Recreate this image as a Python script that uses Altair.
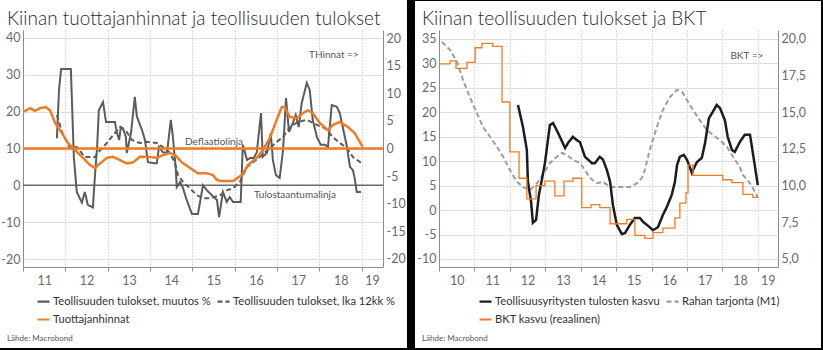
import altair as alt
import pandas as pd

FONT = "Lato"

# ===================== Left panel data =====================
L_TITLE = "Kiinan tuottajanhinnat ja teollisuuden tulokset"
L_SERIES = ["Teollisuuden tulokset, muutos %", "Teollisuuden tulokset, lka 12kk %", "Tuottajanhinnat"]
L_COLORS = ["#5b5b5b", "#5b5b5b", "#EE7B26"]
L_DASHES = [[1, 0], [5, 3], [1, 0]]

L_PROFIT_X = [2011.80, 2011.85, 2011.90, 2012.13, 2012.20, 2012.27, 2012.39, 2012.46, 2012.53, 2012.65,
              2012.70, 2012.75, 2012.79, 2012.89, 2012.96, 2013.17, 2013.22, 2013.27, 2013.31, 2013.36,
              2013.43, 2013.45, 2013.55, 2013.64, 2013.69, 2013.81, 2013.88, 2013.95, 2014.09, 2014.16,
              2014.21, 2014.30, 2014.40, 2014.49, 2014.54, 2014.61, 2014.63, 2014.71, 2014.78, 2014.85,
              2014.99, 2015.13, 2015.25, 2015.34, 2015.46, 2015.58, 2015.63, 2015.72, 2015.81, 2015.88,
              2015.96, 2016.05, 2016.14, 2016.19, 2016.29, 2016.36, 2016.45, 2016.52, 2016.62, 2016.66,
              2016.76, 2016.85, 2016.90, 2016.97, 2017.06, 2017.14, 2017.21, 2017.28, 2017.37, 2017.44,
              2017.51, 2017.58, 2017.70, 2017.77, 2017.84, 2017.94, 2018.03, 2018.13, 2018.20, 2018.29,
              2018.41, 2018.48, 2018.55, 2018.65, 2018.72, 2018.79, 2018.83, 2018.88, 2018.98]
L_PROFIT_Y = [12.8, 25.9, 31.6, 31.6, 7.7, -1.8, -4.7, -1.8, -5.3, -6.0,
              2.8, 10.4, 20.4, 22.6, 17.2, 17.2, 14.2, 12.3, 15.8, 15.5,
              13.1, 8.8, 14.2, 24.0, 18.6, 15.0, 12.3, 6.3, 6.0, 6.0,
              10.4, 9.0, 8.8, 17.8, 13.1, 4.1, -0.5, 0.9, -0.8, -3.5,
              -7.8, -7.8, 0.0, -1.3, -2.7, -4.0, -8.6, -1.8, -4.5, -3.2,
              -4.5, -4.5, -4.5, 11.0, 6.9, 7.4, 7.4, 9.0, 19.6, 7.7,
              8.8, 14.2, 6.9, 2.8, 2.0, 9.5, 23.7, 14.5, 16.9, 19.1,
              15.8, 22.3, 27.8, 25.9, 17.8, 13.1, 11.0, 11.0, 10.4, 21.8,
              21.3, 19.6, 15.8, 10.4, 5.0, 4.1, 2.0, -1.8, -1.8]

L_AVG_X = [2011.80, 2011.92, 2012.11, 2012.27, 2012.46, 2012.70, 2012.82, 2012.98, 2013.17, 2013.29,
           2013.45, 2013.57, 2013.76, 2013.93, 2014.16, 2014.30, 2014.47, 2014.59, 2014.66, 2014.78,
           2014.94, 2015.11, 2015.25, 2015.42, 2015.65, 2015.82, 2015.96, 2016.12, 2016.29, 2016.59,
           2016.83, 2016.99, 2017.14, 2017.30, 2017.49, 2017.70, 2017.94, 2018.13, 2018.32, 2018.48,
           2018.65, 2018.79, 2019.00]
L_AVG_Y = [19.1, 14.5, 10.1, 10.4, 7.7, 7.7, 9.5, 11.5, 14.2, 15.8,
           14.5, 12.3, 11.5, 11.8, 11.5, 10.4, 8.8, 6.0, 2.8, 0.9,
           -0.8, -2.7, -3.5, -3.5, -2.7, -1.3, -0.8, 0.9, 5.0, 7.7,
           10.1, 11.8, 13.1, 15.8, 17.2, 17.8, 16.4, 15.5, 13.1, 11.5,
           10.1, 7.7, 6.0]

L_PPI_X = [2011.02, 2011.17, 2011.28, 2011.40, 2011.54, 2011.64, 2011.76, 2011.92, 2012.06, 2012.23,
           2012.42, 2012.58, 2012.70, 2012.82, 2012.98, 2013.12, 2013.29, 2013.45, 2013.60, 2013.76,
           2013.95, 2014.16, 2014.30, 2014.47, 2014.59, 2014.75, 2014.94, 2015.13, 2015.34, 2015.48,
           2015.58, 2015.70, 2015.96, 2016.07, 2016.17, 2016.31, 2016.52, 2016.66, 2016.83, 2016.99,
           2017.11, 2017.18, 2017.30, 2017.47, 2017.61, 2017.73, 2017.84, 2018.01, 2018.20, 2018.32,
           2018.48, 2018.67, 2018.83, 2018.95, 2019.02]
L_PPI_Y = [6.7, 7.3, 6.8, 7.3, 7.5, 6.9, 4.6, 2.8, 1.0, -0.3,
           -1.7, -3.0, -3.5, -2.7, -1.7, -1.5, -2.1, -2.7, -2.5, -1.5,
           -1.5, -1.7, -1.2, -0.8, -1.2, -2.5, -3.5, -4.5, -4.5, -4.8,
           -5.7, -5.9, -5.9, -5.3, -4.8, -3.0, -1.7, -0.3, 1.9, 5.2,
           7.5, 7.5, 5.7, 5.5, 6.4, 6.9, 6.4, 4.6, 3.3, 4.3,
           4.8, 3.9, 2.8, 1.2, 0.3]

L_XDOMAIN = [2011.0, 2019.5]
L_YEAR_TICKS = [2011, 2012, 2013, 2014, 2015, 2016, 2017, 2018, 2019]
L_YEAR_LABEL_POS = [2011.5, 2012.5, 2013.5, 2014.5, 2015.5, 2016.5, 2017.5, 2018.5, 2019.24]
L_YLEFT_DOMAIN = [-22.17, 42.17]
L_YLEFT_TICKS = [-20, -10, 0, 10, 20, 30, 40]
L_YRIGHT_DOMAIN = [-21.45, 21.45]
L_YRIGHT_TICKS = [-20, -15, -10, -5, 0, 5, 10, 15, 20]

# ===================== Right panel data =====================
R_TITLE = "Kiinan teollisuuden tulokset ja BKT"
R_SERIES = ["Teollisuusyritysten tulosten kasvu", "Rahan tarjonta (M1)", "BKT kasvu (reaalinen)"]
R_COLORS = ["#1c1c1c", "#9c9c9c", "#EE7B26"]
R_DASHES = [[1, 0], [5, 3], [1, 0]]

R_PROFIT_X = [2012.23, 2012.37, 2012.48, 2012.51, 2012.60, 2012.65, 2012.74, 2012.82, 2012.93, 2012.99,
              2013.13, 2013.22, 2013.36, 2013.56, 2013.64, 2013.78, 2013.89, 2013.98, 2014.12, 2014.32,
              2014.40, 2014.54, 2014.63, 2014.74, 2014.83, 2014.91, 2015.02, 2015.16, 2015.25, 2015.39,
              2015.53, 2015.67, 2015.76, 2015.90, 2016.04, 2016.18, 2016.32, 2016.43, 2016.57, 2016.66,
              2016.72, 2016.80, 2016.91, 2017.00, 2017.14, 2017.17, 2017.28, 2017.42, 2017.51, 2017.62,
              2017.73, 2017.84, 2017.93, 2018.07, 2018.15, 2018.27, 2018.35, 2018.49, 2018.63, 2018.78,
              2018.86, 2019.00]
R_PROFIT_Y = [21.5, 17.0, 12.3, 5.8, 1.7, -2.6, -2.0, 3.1, 7.2, 9.6,
              17.4, 17.8, 15.8, 12.7, 13.7, 15.0, 14.3, 13.9, 10.9, 9.6,
              9.6, 10.9, 10.3, 8.2, 5.8, 1.0, -3.0, -4.9, -4.7, -3.0,
              -1.6, -1.6, -2.4, -3.2, -4.1, -3.5, -1.0, 0.6, 3.1, 5.8,
              9.2, 10.9, 11.3, 10.3, 7.6, 8.2, 9.8, 10.7, 13.7, 18.8,
              20.1, 21.5, 20.9, 18.4, 15.0, 12.3, 11.9, 13.9, 15.4, 15.4,
              11.7, 5.1]

R_M1_X = [2010.08, 2010.31, 2010.51, 2010.68, 2010.87, 2011.07, 2011.24, 2011.44, 2011.64, 2011.81,
          2012.00, 2012.20, 2012.37, 2012.57, 2012.77, 2012.93, 2013.13, 2013.33, 2013.47, 2013.61,
          2013.78, 2013.98, 2014.12, 2014.26, 2014.46, 2014.63, 2014.83, 2015.11, 2015.39, 2015.59,
          2015.73, 2015.81, 2015.95, 2016.15, 2016.32, 2016.52, 2016.72, 2016.86, 2017.00, 2017.17,
          2017.36, 2017.56, 2017.73, 2017.93, 2018.13, 2018.30, 2018.49, 2018.58, 2018.78, 2018.97,
          2019.00]
R_M1_Y = [34.4, 32.8, 30.3, 26.6, 23.1, 19.9, 17.0, 15.0, 12.9, 10.9,
          8.2, 5.8, 4.7, 4.1, 5.5, 7.2, 9.6, 10.9, 11.7, 11.3,
          10.3, 9.6, 8.2, 6.6, 5.5, 5.8, 4.7, 4.7, 4.7, 5.5,
          6.6, 8.2, 12.3, 17.0, 20.5, 23.1, 24.6, 24.2, 22.5, 20.5,
          18.4, 16.4, 15.4, 14.3, 12.9, 10.9, 8.8, 7.2, 5.5, 3.1,
          2.5]

R_GDP_X = [2010.03, 2010.31, 2010.48, 2010.79, 2011.02, 2011.21, 2011.52, 2011.78, 2012.00, 2012.26,
           2012.48, 2012.74, 2012.99, 2013.27, 2013.53, 2013.78, 2014.03, 2014.29, 2014.54, 2014.83,
           2015.30, 2015.53, 2015.81, 2016.04, 2016.32, 2016.66, 2016.80, 2016.97, 2017.03, 2017.17,
           2018.01, 2018.27, 2018.58, 2018.86, 2019.00]
R_GDP_Y = [18.3, 18.5, 18.0, 18.4, 19.4, 19.7, 19.5, 15.7, 12.3, 10.5,
           9.1, 10.0, 10.3, 9.3, 10.3, 10.5, 8.5, 8.7, 8.5, 7.4,
           7.7, 6.6, 6.4, 6.8, 7.1, 7.8, 8.8, 9.5, 11.4, 10.7,
           10.4, 10.2, 9.4, 9.2, 9.2]

R_XDOMAIN = [2010.0, 2019.57]
R_YEAR_TICKS = [2010, 2011, 2012, 2013, 2014, 2015, 2016, 2017, 2018, 2019]
R_YEAR_LABEL_POS = [2010.5, 2011.5, 2012.5, 2013.5, 2014.5, 2015.5, 2016.5, 2017.5, 2018.5, 2019.28]
R_YLEFT_DOMAIN = [-11.64, 36.84]
R_YLEFT_TICKS = [-10, -5, 0, 5, 10, 15, 20, 25, 30, 35]
R_YRIGHT_DOMAIN = [4.45, 20.61]
R_YRIGHT_TICKS = [5.0, 7.5, 10.0, 12.5, 15.0, 17.5, 20.0]

SOURCE = "Lähde: Macrobond"

AXIS_GRAY = "#8c8c8c"
LABEL_GRAY = "#6a6a6a"
NOTE_GRAY = "#555555"


# ===================== helpers =====================
def x_tick_axis(values):
    return alt.Axis(orient="bottom", values=values, labels=False, ticks=True, tickSize=4,
                    tickColor=AXIS_GRAY, domain=True, domainColor=AXIS_GRAY, grid=True,
                    gridColor="#b5b5b5", gridDash=[1, 2], gridWidth=1, title=None)


def x_label_axis(values):
    return alt.Axis(orient="bottom", values=values, labels=True, ticks=False, domain=False,
                    grid=False, labelExpr="substring(toString(floor(datum.value)), 2, 4)",
                    labelFont=FONT, labelFontSize=12.5, labelColor=LABEL_GRAY, labelPadding=7,
                    labelFlush=False, labelOverlap=False, title=None)


def y_axis(orient, values, grid, expr):
    return alt.Axis(orient=orient, values=values, grid=grid, gridColor="#dedede", gridWidth=1,
                    domain=True, domainColor=AXIS_GRAY, ticks=False, labelPadding=3,
                    labelFont=FONT, labelFontSize=12.5, labelColor=LABEL_GRAY, labelExpr=expr,
                    labelOverlap=False, title=None)


def frame(xs, ys, name):
    return pd.DataFrame({"year": xs, "value": ys, "series": name})


def legend(lx, ly):
    return alt.Legend(orient="none", legendX=lx, legendY=ly, columns=2, direction="horizontal",
                      title=None, symbolType="stroke", symbolStrokeWidth=2.2, symbolSize=144,
                      labelFont=FONT, labelFontSize=11.2, labelColor="#333333", labelLimit=0,
                      rowPadding=5, columnPadding=2, labelOffset=2, padding=0)


def line(df, xe, ye, ce, de, width, interp="linear"):
    return alt.Chart(df).mark_line(strokeWidth=width, interpolate=interp).encode(
        x=xe, y=ye, color=ce, strokeDash=de)


def note(x, y, text, xe, ye, dy=0):
    df = pd.DataFrame({"year": [x], "value": [y], "label": [text]})
    return alt.Chart(df).mark_text(font=FONT, fontSize=10, fill=NOTE_GRAY, align="center",
                                   baseline="middle", dy=dy).encode(x=xe, y=ye, text="label:N")


def box(x, x2, y, y2, color="black", opacity=1.0):
    return alt.Chart(pd.DataFrame({"k": [0]})).mark_rect(fill=color, opacity=opacity).encode(
        x=alt.value(x), x2=alt.value(x2), y=alt.value(y), y2=alt.value(y2))


def free_text(x, y, text, size, color, weight="normal"):
    return alt.Chart(pd.DataFrame({"label": [text]})).mark_text(
        font=FONT, fontSize=size, fill=color, fontWeight=weight, align="left",
        baseline="alphabetic").encode(x=alt.value(x), y=alt.value(y), text="label:N")


def panel(width, height, xdom, ticks, labelpos, ydomL, yticksL, ydomR, yticksR, rexpr,
          series, colors, dashes, left_lines, right_lines, left_notes, right_notes,
          extra, leg_x, title, bounds, borders):
    xsc = alt.Scale(domain=xdom, nice=False, zero=False)
    xA = alt.X("year:Q", scale=xsc, axis=x_tick_axis(ticks))
    xB = alt.X("year:Q", scale=xsc, axis=x_label_axis(labelpos))
    yA = alt.Y("value:Q", scale=alt.Scale(domain=ydomL, nice=False, zero=False),
               axis=y_axis("left", yticksL, True, "'' + datum.value"))
    yB = alt.Y("value:Q", scale=alt.Scale(domain=ydomR, nice=False, zero=False),
               axis=y_axis("right", yticksR, False, rexpr))
    leg = legend(leg_x, 264)
    ce = alt.Color("series:N", scale=alt.Scale(domain=series, range=colors), legend=leg)
    de = alt.StrokeDash("series:N", scale=alt.Scale(domain=series, range=dashes), legend=leg)

    layA = [c(xA, yA) for c in extra.get("A", [])]
    layA += [line(df, xA, yA, ce, de, w, ip) for (df, w, ip) in left_lines]
    layA += [note(x, y, t, xA, yA, dy) for (x, y, t, dy) in left_notes]
    layB = [c(xB, yB) for c in extra.get("B", [])]
    layB += [line(df, xB, yB, ce, de, w, ip) for (df, w, ip) in right_lines]
    layB += [note(x, y, t, xB, yB, dy) for (x, y, t, dy) in right_notes]

    groupA = alt.layer(*layA)
    groupB = alt.layer(*layB)
    bx0, bx1, by0, by1 = bounds
    layers = [box(bx0, bx1, by0, by1, "white", 0.0), groupA, groupB]
    layers += [box(*b) for b in borders]
    layers += [free_text(bx0 + title[1], -5, title[0], 19, "#2a2a2a", 300),
               free_text(bx0 + title[1], 311, SOURCE, 8, "#555555")]
    return alt.layer(*layers).resolve_scale(y="independent").resolve_axis(
        x="independent").properties(width=width, height=height)


def zero_rule_left(xe, ye):
    return alt.Chart(pd.DataFrame({"value": [0]})).mark_rule(
        color="#6a6a6a", strokeWidth=1.5).encode(y=ye)


def zero_rule_right(xe, ye):
    return alt.Chart(pd.DataFrame({"value": [0]})).mark_rule(
        color="#EE7B26", strokeWidth=2.5).encode(y=ye)


# ===================== left panel =====================
left = panel(
    360, 237, L_XDOMAIN, L_YEAR_TICKS, L_YEAR_LABEL_POS,
    L_YLEFT_DOMAIN, L_YLEFT_TICKS, L_YRIGHT_DOMAIN, L_YRIGHT_TICKS, "'' + datum.value",
    L_SERIES, L_COLORS, L_DASHES,
    [(frame(L_AVG_X, L_AVG_Y, L_SERIES[1]), 2.0, "linear"),
     (frame(L_PROFIT_X, L_PROFIT_Y, L_SERIES[0]), 2.0, "linear")],
    [(frame(L_PPI_X, L_PPI_Y, L_SERIES[2]), 2.5, "linear")],
    [(2017.42, 0.0, "Tulostaantumalinja", 10)],
    [(2015.51, 0.0, "Deflaatiolinja", -7), (2018.34, 16.9, "THinnat =>", 0)],
    {"A": [zero_rule_left], "B": [zero_rule_right]},
    13, (L_TITLE, 7),
    (-23, 388, -30, 320),
    [(384, 388, -30, 320), (-23, 388, 318, 320)],
)

# ===================== right panel =====================
right = panel(
    339, 237, R_XDOMAIN, R_YEAR_TICKS, R_YEAR_LABEL_POS,
    R_YLEFT_DOMAIN, R_YLEFT_TICKS, R_YRIGHT_DOMAIN, R_YRIGHT_TICKS,
    "replace(format(datum.value, '.1f'), '.', ',')",
    R_SERIES, R_COLORS, R_DASHES,
    [(frame(R_M1_X, R_M1_Y, R_SERIES[1]), 2.0, "linear"),
     (frame(R_PROFIT_X, R_PROFIT_Y, R_SERIES[0]), 2.5, "linear")],
    [(frame(R_GDP_X, R_GDP_Y, R_SERIES[2]), 1.3, "step-after")],
    [],
    [(2018.69, 18.85, "BKT =>", 0)],
    {},
    39, (R_TITLE, 11),
    (-28, 384, -30, 320),
    [(-28, -24, -30, 320), (382, 384, -30, 320), (-28, 384, -30, -29), (-28, 384, 318, 320)],
)

chart = alt.hconcat(left, right, spacing=0).resolve_scale(
    color="independent", strokeDash="independent"
).properties(padding=0, background="white").configure_view(strokeWidth=0)

chart.save("out.html", embed_options={"renderer": "svg", "actions": False})
